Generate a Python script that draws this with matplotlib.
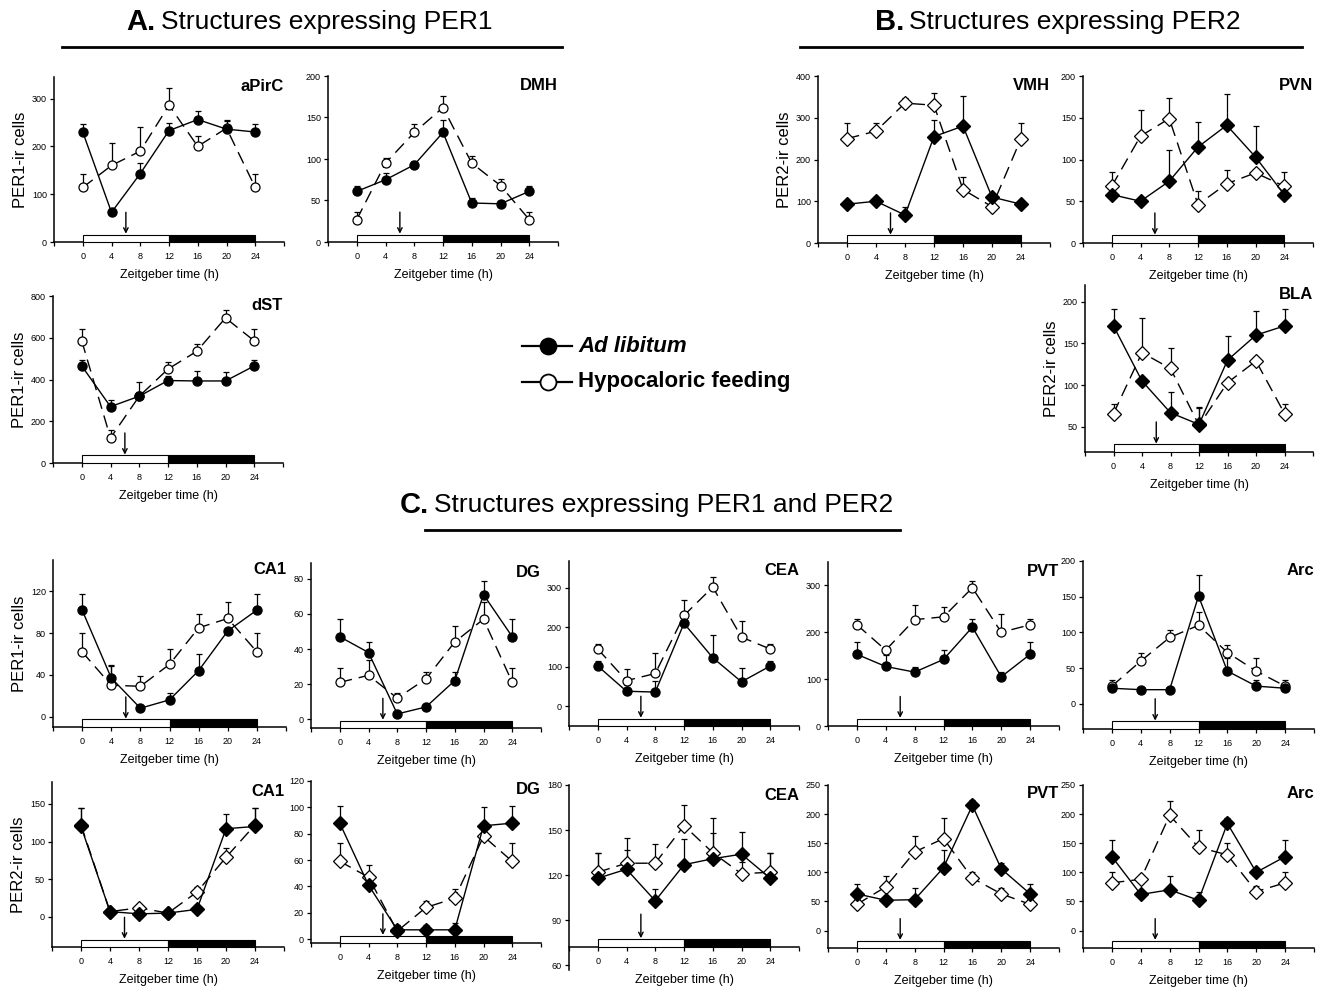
import matplotlib
matplotlib.use("Agg")
import matplotlib.pyplot as plt
import matplotlib.transforms as mtransforms
from matplotlib.lines import Line2D
from matplotlib.patches import Rectangle
import numpy as np

plt.rcParams['font.family'] = ['Liberation Sans', 'DejaVu Sans']

# %%
# data: Zeitgeber time and cell counts (mean, upper SEM)
zt = [0, 4, 8, 12, 16, 20, 24]

# A. PER1
apirc_al = [230, 62, 143, 233, 256, 236, 230]
apirc_al_err = [17, 5, 22, 15, 17, 20, 17]
apirc_hf = [114, 160, 190, 286, 200, 238, 114]
apirc_hf_err = [28, 47, 50, 37, 22, 15, 28]

dmh_al = [61, 75, 93, 132, 47, 46, 61]
dmh_al_err = [7, 8, 4, 15, 6, 3, 7]
dmh_hf = [27, 95, 132, 162, 95, 68, 27]
dmh_hf_err = [9, 6, 10, 14, 9, 8, 9]

dst_al = [465, 270, 320, 395, 393, 393, 465]
dst_al_err = [30, 30, 20, 20, 50, 45, 30]
dst_hf = [585, 120, 320, 450, 535, 695, 585]
dst_hf_err = [55, 40, 70, 35, 35, 40, 55]

# B. PER2
vmh_al = [93, 100, 67, 255, 280, 110, 93]
vmh_al_err = [4, 8, 20, 40, 72, 5, 4]
vmh_hf = [250, 268, 335, 330, 128, 87, 250]
vmh_hf_err = [37, 20, 12, 30, 30, 5, 37]

pvn_al = [58, 50, 74, 115, 141, 103, 58]
pvn_al_err = [3, 3, 37, 30, 37, 37, 3]
pvn_hf = [68, 128, 149, 46, 71, 84, 68]
pvn_hf_err = [17, 31, 25, 16, 16, 5, 17]

bla_al = [171, 105, 67, 53, 130, 160, 171]
bla_al_err = [20, 5, 25, 20, 29, 29, 20]
bla_hf = [66, 139, 120, 52, 103, 129, 66]
bla_hf_err = [12, 41, 24, 22, 5, 5, 12]

# C. PER1 row
ca1_p1_al = [102, 37, 8, 16, 44, 82, 102]
ca1_p1_al_err = [15, 12, 2, 7, 16, 3, 15]
ca1_p1_hf = [62, 30, 29, 50, 85, 94, 62]
ca1_p1_hf_err = [18, 18, 10, 15, 13, 16, 18]

dg_p1_al = [47, 38, 3, 7, 22, 71, 47]
dg_p1_al_err = [10, 6, 1, 1, 5, 8, 10]
dg_p1_hf = [21, 25, 12, 23, 44, 57, 21]
dg_p1_hf_err = [8, 9, 3, 4, 9, 10, 8]

cea_p1_al = [102, 38, 36, 210, 123, 62, 102]
cea_p1_al_err = [12, 15, 28, 5, 57, 35, 12]
cea_p1_hf = [145, 65, 83, 230, 302, 175, 145]
cea_p1_hf_err = [12, 30, 52, 38, 25, 40, 12]

pvt_p1_al = [153, 127, 115, 142, 211, 105, 153]
pvt_p1_al_err = [27, 25, 10, 20, 17, 10, 27]
pvt_p1_hf = [216, 162, 227, 233, 295, 200, 216]
pvt_p1_hf_err = [12, 5, 32, 22, 15, 40, 12]

arc_p1_al = [22, 20, 20, 151, 46, 25, 22]
arc_p1_al_err = [3, 1, 1, 30, 18, 8, 3]
arc_p1_hf = [25, 60, 93, 110, 72, 46, 25]
arc_p1_hf_err = [8, 12, 10, 18, 10, 19, 8]

# C. PER2 row
ca1_p2_al = [120, 7, 4, 5, 10, 117, 120]
ca1_p2_al_err = [24, 2, 2, 2, 2, 20, 24]
ca1_p2_hf = [122, 7, 12, 5, 33, 79, 122]
ca1_p2_hf_err = [22, 2, 3, 2, 6, 12, 22]

dg_p2_al = [88, 41, 7, 7, 7, 86, 88]
dg_p2_al_err = [13, 4, 4, 4, 5, 14, 13]
dg_p2_hf = [59, 47, 6, 24, 31, 78, 59]
dg_p2_hf_err = [14, 9, 5, 5, 7, 3, 14]

cea_p2_al = [118, 124, 103, 127, 131, 134, 118]
cea_p2_al_err = [17, 13, 8, 17, 17, 15, 17]
cea_p2_hf = [122, 128, 128, 153, 135, 121, 122]
cea_p2_hf_err = [13, 17, 13, 14, 23, 8, 13]

pvt_p2_al = [63, 52, 53, 108, 215, 106, 63]
pvt_p2_al_err = [17, 5, 20, 30, 10, 10, 17]
pvt_p2_hf = [45, 75, 135, 158, 90, 63, 45]
pvt_p2_hf_err = [10, 18, 27, 35, 10, 10, 10]

arc_p2_al = [127, 62, 70, 52, 184, 100, 127]
arc_p2_al_err = [28, 5, 23, 15, 10, 5, 28]
arc_p2_hf = [82, 88, 198, 143, 130, 67, 82]
arc_p2_hf_err = [18, 5, 25, 30, 20, 10, 18]

FW, FH = 1335, 996


def add_ax(fig, left, top, right, bottom):
    return fig.add_axes([left / FW, 1 - bottom / FH, (right - left) / FW, (bottom - top) / FH])


def draw_panel(ax, al, al_err, hf, hf_err, ylim, yticks, name, marker, ylabel=None, xaxis_at=None):
    x = np.array(zt)
    ms = 6.5 if marker == 'o' else 7.5
    # error bars, upper side only
    ax.errorbar(x, hf, yerr=[np.zeros(len(hf)), hf_err], fmt='none', ecolor='k',
                elinewidth=0.9, capsize=2.5, capthick=0.9, zorder=2)
    ax.errorbar(x, al, yerr=[np.zeros(len(al)), al_err], fmt='none', ecolor='k',
                elinewidth=0.9, capsize=2.5, capthick=0.9, zorder=2)
    ax.plot(x, hf, color='k', lw=1, dashes=(9, 5), marker=marker, ms=ms,
            mfc='white', mec='k', mew=0.9, zorder=4)
    ax.plot(x, al, color='k', lw=1, marker=marker, ms=ms, mfc='k', mec='k', zorder=5)

    ax.set_xlim(-4, 28)
    ax.set_ylim(*ylim)
    ax.set_xticks(range(-4, 29, 4))
    ax.set_xticklabels([''] + [str(v) for v in zt] + [''])
    ax.set_yticks(yticks)
    ax.tick_params(labelsize=6.5, length=3, width=0.9, pad=2)
    ax.tick_params(axis='x', pad=4)
    for s in ['top', 'right']:
        ax.spines[s].set_visible(False)
    for s in ['left', 'bottom']:
        ax.spines[s].set_linewidth(1.1)
    ax.set_xlabel('Zeitgeber time (h)', fontsize=9, labelpad=6)
    if ylabel:
        ax.set_ylabel(ylabel, fontsize=12, labelpad=3)
    ax.text(1.0, 0.945, name, transform=ax.transAxes, ha='right', va='center',
            fontsize=12, fontweight='bold')

    # light/dark bar and food arrow
    if xaxis_at is None:
        y0 = 0.0
    else:
        ax.spines['bottom'].set_position(('data', xaxis_at))
        y0 = (xaxis_at - ylim[0]) / (ylim[1] - ylim[0])
    trans = mtransforms.blended_transform_factory(ax.transData, ax.transAxes)
    ax.add_patch(Rectangle((0, y0), 12, 0.045, transform=trans, facecolor='white',
                           edgecolor='k', lw=0.8, zorder=3, clip_on=False))
    ax.add_patch(Rectangle((12, y0), 12, 0.045, transform=trans, facecolor='k',
                           edgecolor='k', lw=0.8, zorder=3, clip_on=False))
    ax.annotate('', xy=(6, y0 + 0.05), xytext=(6, y0 + 0.18), xycoords=trans, textcoords=trans,
                arrowprops=dict(arrowstyle='->', lw=1, color='k', shrinkA=0, shrinkB=0,
                                mutation_scale=8))


fig = plt.figure(figsize=(FW / 100, FH / 100), dpi=100)

# A. PER1
ax = add_ax(fig, 54, 77, 284, 242)
draw_panel(ax, apirc_al, apirc_al_err, apirc_hf, apirc_hf_err, (0, 345), [0, 100, 200, 300],
           'aPirC', 'o', 'PER1-ir cells')
ax = add_ax(fig, 328, 76, 558, 242)
draw_panel(ax, dmh_al, dmh_al_err, dmh_hf, dmh_hf_err, (0, 200), [0, 50, 100, 150, 200],
           'DMH', 'o')
ax = add_ax(fig, 53, 296, 283, 463)
draw_panel(ax, dst_al, dst_al_err, dst_hf, dst_hf_err, (0, 800), [0, 200, 400, 600, 800],
           'dST', 'o', 'PER1-ir cells')

# B. PER2
ax = add_ax(fig, 818, 76, 1050, 243)
draw_panel(ax, vmh_al, vmh_al_err, vmh_hf, vmh_hf_err, (0, 400), [0, 100, 200, 300, 400],
           'VMH', 'D', 'PER2-ir cells')
ax = add_ax(fig, 1083, 76, 1313, 243)
draw_panel(ax, pvn_al, pvn_al_err, pvn_hf, pvn_hf_err, (0, 200), [0, 50, 100, 150, 200],
           'PVN', 'D')
ax = add_ax(fig, 1085, 285, 1313, 452)
draw_panel(ax, bla_al, bla_al_err, bla_hf, bla_hf_err, (20, 220), [50, 100, 150, 200],
           'BLA', 'D', 'PER2-ir cells')

# C. PER1 row
ax = add_ax(fig, 53, 560, 286, 727)
draw_panel(ax, ca1_p1_al, ca1_p1_al_err, ca1_p1_hf, ca1_p1_hf_err, (-10, 150), [0, 40, 80, 120],
           'CA1', 'o', 'PER1-ir cells')
ax = add_ax(fig, 311, 563, 541, 728)
draw_panel(ax, dg_p1_al, dg_p1_al_err, dg_p1_hf, dg_p1_hf_err, (-5, 89), [0, 20, 40, 60, 80],
           'DG', 'o')
ax = add_ax(fig, 569, 561, 799, 726)
draw_panel(ax, cea_p1_al, cea_p1_al_err, cea_p1_hf, cea_p1_hf_err, (-50, 368), [0, 100, 200, 300],
           'CEA', 'o')
ax = add_ax(fig, 828, 562, 1059, 726)
draw_panel(ax, pvt_p1_al, pvt_p1_al_err, pvt_p1_hf, pvt_p1_hf_err, (0, 350), [0, 100, 200, 300],
           'PVT', 'o')
ax = add_ax(fig, 1083, 561, 1314, 729)
draw_panel(ax, arc_p1_al, arc_p1_al_err, arc_p1_hf, arc_p1_hf_err, (-35, 200), [0, 50, 100, 150, 200],
           'Arc', 'o')

# C. PER2 row
ax = add_ax(fig, 52, 782, 284, 947)
draw_panel(ax, ca1_p2_al, ca1_p2_al_err, ca1_p2_hf, ca1_p2_hf_err, (-40, 179), [0, 50, 100, 150],
           'CA1', 'D', 'PER2-ir cells')
ax = add_ax(fig, 311, 781, 541, 943)
draw_panel(ax, dg_p2_al, dg_p2_al_err, dg_p2_hf, dg_p2_hf_err, (-3, 120), [0, 20, 40, 60, 80, 100, 120],
           'DG', 'D')
ax = add_ax(fig, 569, 785, 799, 970)
draw_panel(ax, cea_p2_al, cea_p2_al_err, cea_p2_hf, cea_p2_hf_err, (57, 180), [60, 90, 120, 150, 180],
           'CEA', 'D', xaxis_at=72)
ax = add_ax(fig, 828, 785, 1059, 948)
draw_panel(ax, pvt_p2_al, pvt_p2_al_err, pvt_p2_hf, pvt_p2_hf_err, (-30, 250), [0, 50, 100, 150, 200, 250],
           'PVT', 'D')
ax = add_ax(fig, 1083, 785, 1314, 948)
draw_panel(ax, arc_p2_al, arc_p2_al_err, arc_p2_hf, arc_p2_hf_err, (-30, 250), [0, 50, 100, 150, 200, 250],
           'Arc', 'D')


# section titles with underline
def section_title(letter, text, x_split, y_text):
    fig.text(x_split / FW, 1 - y_text / FH, letter, ha='right', va='center',
             fontsize=21, fontweight='bold')
    fig.text((x_split + 5) / FW, 1 - y_text / FH, text, ha='left', va='center', fontsize=19)


section_title('A.', 'Structures expressing PER1', 156, 22)
section_title('B.', 'Structures expressing PER2', 904, 22)
section_title('C.', 'Structures expressing PER1 and PER2', 429, 505)
for x0, x1, y in [(62, 562, 47), (800, 1302, 47), (425, 900, 530)]:
    fig.add_artist(Line2D([x0 / FW, x1 / FW], [1 - y / FH, 1 - y / FH], color='k', lw=2))

# legend, drawn by hand
leg_rows = [('Ad libitum', 'k', 'italic', 346), ('Hypocaloric feeding', 'white', 'normal', 382)]
for label, face, style, ypx in leg_rows:
    yf = 1 - ypx / FH
    fig.add_artist(Line2D([522 / FW, 572 / FW], [yf, yf], color='k', lw=1.6))
    fig.add_artist(Line2D([548 / FW], [yf], marker='o', ms=11.5, mfc=face, mec='k', mew=1.3))
    fig.text(578 / FW, yf, label, ha='left', va='center', fontsize=16,
             fontweight='bold', style=style)

fig.savefig('out.png', dpi=100)
